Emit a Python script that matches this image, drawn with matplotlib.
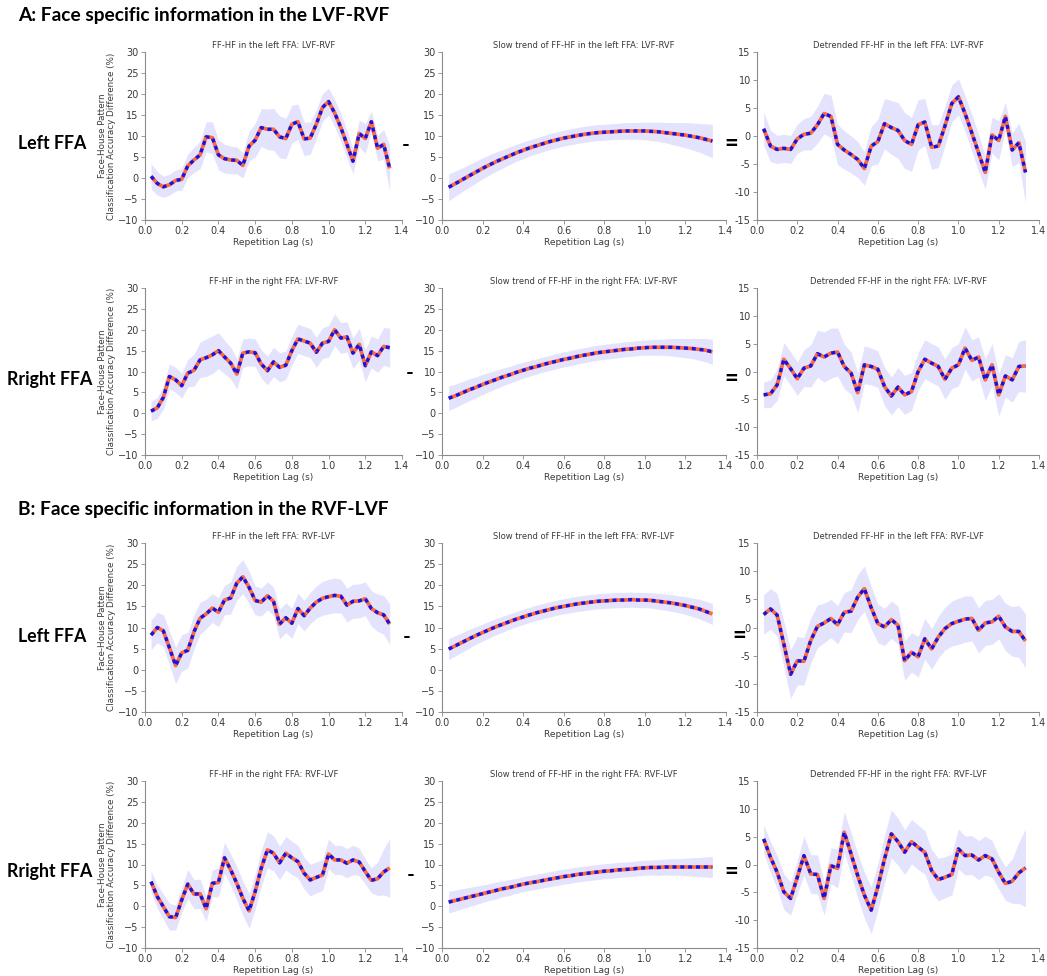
import matplotlib
matplotlib.use("Agg")
import matplotlib.pyplot as plt
import numpy as np
from matplotlib.ticker import FuncFormatter

# ---------------- data ----------------
lag = [0.033, 0.067, 0.1, 0.133, 0.167, 0.2, 0.233, 0.267, 0.3, 0.333,
       0.367, 0.4, 0.433, 0.467, 0.5, 0.533, 0.567, 0.6, 0.633, 0.667,
       0.7, 0.733, 0.767, 0.8, 0.833, 0.867, 0.9, 0.933, 0.967, 1.0,
       1.033, 1.067, 1.1, 1.133, 1.167, 1.2, 1.233, 1.267, 1.3, 1.333]

# A: left FFA, LVF-RVF
a_raw = [0.4, -1.3, -2.1, -1.6, -0.6, -0.3, 2.9, 4.3, 5.5, 9.8, 9.6, 5.5, 4.6, 4.3, 4.2, 3.0,
         7.6, 9.0, 12.0, 11.6, 11.6, 9.8, 9.4, 12.8, 13.4, 9.3, 9.5, 12.8, 16.8, 18.2, 15.5, 12.0,
         8.0, 4.0, 10.6, 9.4, 13.4, 7.1, 8.0, 2.3]
a_trend = [-2.2, -1.3, -0.4, 0.5, 1.4, 2.3, 3.1, 3.9, 4.6, 5.3, 6.0, 6.6, 7.2, 7.7, 8.2, 8.7,
           9.1, 9.5, 9.8, 10.1, 10.4, 10.6, 10.8, 10.9, 11.0, 11.1, 11.2, 11.2, 11.2, 11.2, 11.1,
           11.0, 10.8, 10.6, 10.4, 10.2, 9.9, 9.6, 9.2, 8.8]
a_detr = [1.3, -1.8, -2.4, -2.2, -2.4, -0.5, 0.3, 0.5, 2.0, 4.0, 3.5, -1.5, -2.5, -3.3, -4.2, -5.8,
          -1.8, -1.0, 2.2, 1.5, 1.0, -0.8, -1.5, 2.0, 2.5, -2.0, -1.8, 1.8, 5.8, 7.0, 4.0, 0.5,
          -3.0, -6.5, 0.2, -0.8, 3.5, -2.5, -1.2, -6.5]
a_sem = [3.0, 2.8, 2.5, 2.5, 2.5, 2.6, 2.8, 3.0, 3.3, 3.6, 3.8, 3.6, 3.4, 3.3, 3.2, 3.0, 3.5, 4.0,
         4.5, 4.8, 5.0, 5.0, 4.8, 4.5, 4.2, 4.0, 3.8, 3.5, 3.3, 3.2, 3.2, 3.3, 3.3, 3.0, 3.2, 3.5,
         2.5, 3.0, 3.5, 5.5]
a_trend_sem = [3.2, 3.0, 2.8, 2.7, 2.6, 2.5, 2.4, 2.3, 2.2, 2.1, 2.0, 2.0, 1.9, 1.9, 1.9, 1.9,
               1.9, 1.9, 1.9, 1.9, 1.9, 1.9, 1.9, 1.9, 1.9, 1.9, 2.0, 2.0, 2.0, 2.1, 2.2, 2.3,
               2.4, 2.6, 2.8, 3.0, 3.2, 3.4, 3.7, 4.0]

# B: right FFA, LVF-RVF
b_raw = [0.5, 1.3, 3.8, 8.8, 8.0, 6.6, 9.6, 10.3, 12.8, 13.3, 14.0, 15.0, 13.5, 12.0, 9.4, 14.4,
         14.7, 14.5, 11.8, 10.2, 12.3, 11.0, 11.5, 15.0, 17.8, 17.3, 16.8, 14.6, 16.8, 17.2, 20.0,
         18.0, 18.3, 14.4, 16.5, 11.4, 14.7, 13.8, 16.0, 15.7]
b_trend = [3.6, 4.2, 4.9, 5.6, 6.2, 6.9, 7.5, 8.1, 8.7, 9.2, 9.8, 10.3, 10.8, 11.2, 11.7, 12.1,
           12.5, 12.9, 13.2, 13.6, 13.9, 14.2, 14.5, 14.7, 14.9, 15.1, 15.3, 15.4, 15.6, 15.7,
           15.8, 15.8, 15.8, 15.8, 15.7, 15.6, 15.5, 15.3, 15.1, 14.7]
b_detr = [-4.2, -4.0, -2.4, 2.2, 0.5, -1.3, 0.6, 1.0, 3.2, 2.6, 3.3, 3.5, 0.9, -0.3, -3.8, 1.2,
          0.9, 0.4, -2.7, -4.4, -2.8, -4.2, -3.6, 0.0, 2.2, 1.5, 0.9, -1.4, 0.6, 1.2, 4.2, 2.0,
          2.6, -1.5, 1.2, -4.2, -0.8, -1.5, 0.9, 1.0]
b_sem = [2.3, 2.5, 2.8, 3.0, 3.0, 3.0, 3.3, 3.8, 4.2, 4.5, 4.5, 4.3, 4.0, 3.8, 3.6, 3.4, 3.3, 3.3,
         3.4, 3.4, 3.5, 3.5, 3.4, 3.4, 3.5, 3.5, 3.5, 3.6, 3.7, 3.8, 3.8, 3.7, 3.6, 3.7, 3.8, 3.8,
         3.8, 4.0, 4.5, 4.7]
b_trend_sem = [2.9, 2.8, 2.7, 2.6, 2.5, 2.4, 2.3, 2.2, 2.1, 2.0, 2.0, 1.9, 1.9, 1.8, 1.8, 1.8,
               1.8, 1.8, 1.8, 1.8, 1.8, 1.8, 1.8, 1.8, 1.8, 1.8, 1.8, 1.8, 1.8, 1.8, 1.9, 1.9,
               2.0, 2.1, 2.2, 2.3, 2.4, 2.6, 2.8, 3.0]

# C: left FFA, RVF-LVF
c_raw = [8.2, 10.0, 9.2, 5.2, 1.0, 4.0, 4.6, 9.0, 12.2, 13.2, 14.6, 13.6, 16.5, 17.0, 20.5, 22.0,
         19.5, 16.4, 16.0, 17.5, 16.2, 10.8, 12.3, 11.0, 14.5, 12.8, 14.6, 16.0, 16.9, 17.3, 17.6,
         17.4, 15.3, 16.2, 16.3, 16.8, 14.5, 13.5, 13.0, 10.8]
c_trend = [4.9, 5.7, 6.5, 7.3, 8.1, 8.8, 9.5, 10.2, 10.8, 11.4, 12.0, 12.5, 13.0, 13.5, 13.9,
           14.3, 14.7, 15.0, 15.3, 15.6, 15.8, 16.0, 16.2, 16.3, 16.4, 16.5, 16.5, 16.6, 16.5,
           16.5, 16.4, 16.2, 16.0, 15.8, 15.5, 15.2, 14.8, 14.4, 13.8, 13.2]
c_detr = [2.3, 3.3, 2.2, -2.9, -8.3, -5.9, -6.0, -2.3, 0.2, 0.8, 1.6, 0.5, 2.7, 2.9, 5.4, 6.9,
          3.5, 0.7, 0.1, 1.4, 0.4, -5.9, -4.4, -5.2, -2.0, -3.8, -1.7, -0.2, 0.7, 1.1, 1.5, 1.6,
          -0.5, 0.8, 1.0, 2.0, 0.1, -0.7, -0.7, -2.4]
c_sem = [3.5, 3.6, 3.8, 4.0, 4.3, 4.3, 4.2, 4.0, 3.8, 3.5, 3.4, 3.4, 3.5, 3.8, 4.0, 4.0, 3.8, 3.4,
         3.3, 3.3, 3.4, 3.5, 3.5, 3.6, 3.6, 3.6, 3.7, 3.8, 4.0, 4.1, 4.1, 4.0, 4.0, 4.0, 4.0, 4.0,
         4.2, 4.4, 4.6, 4.8]
c_trend_sem = [2.5, 2.4, 2.3, 2.2, 2.1, 2.0, 2.0, 1.9, 1.9, 1.8, 1.8, 1.8, 1.8, 1.8, 1.8, 1.8,
               1.8, 1.8, 1.8, 1.8, 1.8, 1.8, 1.8, 1.8, 1.8, 1.8, 1.8, 1.8, 1.8, 1.8, 1.8, 1.9,
               1.9, 2.0, 2.0, 2.1, 2.2, 2.3, 2.4, 2.5]

# D: right FFA, RVF-LVF
d_raw = [5.9, 2.3, -0.1, -2.5, -2.7, 1.5, 5.3, 2.9, 3.0, -0.6, 5.5, 5.7, 11.6, 8.7, 5.5, 1.9,
         -1.1, 3.5, 9.1, 13.5, 12.7, 10.4, 12.7, 11.6, 10.7, 7.9, 6.3, 6.9, 7.5, 12.5, 11.1, 11.1,
         10.3, 11.1, 10.6, 8.3, 6.2, 6.6, 8.2, 9.2]
d_trend = [1.0, 1.4, 1.8, 2.2, 2.6, 3.0, 3.4, 3.8, 4.2, 4.5, 4.9, 5.3, 5.6, 5.9, 6.2, 6.5, 6.8,
           7.1, 7.3, 7.6, 7.8, 8.0, 8.2, 8.4, 8.5, 8.7, 8.8, 8.9, 9.1, 9.2, 9.3, 9.3, 9.4, 9.4,
           9.4, 9.4, 9.4, 9.4, 9.4, 9.4]
d_detr = [4.6, 1.3, -1.4, -4.9, -6.1, -2.3, 1.6, -1.7, -1.8, -6.1, -0.2, -0.7, 5.8, 1.9, -2.0,
          -5.5, -8.2, -4.0, 1.0, 5.5, 4.1, 2.2, 4.1, 3.1, 2.2, -1.1, -2.7, -2.3, -1.8, 2.8, 1.6,
          1.7, 0.8, 1.6, 1.0, -1.4, -3.4, -3.0, -1.5, -0.6]
d_sem = [2.5, 2.8, 3.0, 3.2, 3.0, 3.0, 3.5, 3.5, 3.5, 3.0, 3.2, 3.5, 3.7, 3.8, 4.0, 4.1, 4.2, 4.2,
         4.3, 4.3, 4.2, 4.0, 4.0, 4.0, 3.9, 3.8, 3.8, 3.7, 3.7, 3.6, 3.5, 3.5, 3.5, 3.5, 3.3, 3.0,
         3.0, 4.0, 5.5, 7.0]
d_trend_sem = [2.6, 2.5, 2.4, 2.3, 2.2, 2.1, 2.0, 2.0, 1.9, 1.9, 1.8, 1.8, 1.8, 1.8, 1.8, 1.8,
               1.8, 1.8, 1.8, 1.8, 1.8, 1.8, 1.8, 1.8, 1.8, 1.8, 1.8, 1.8, 1.8, 1.8, 1.8, 1.9,
               1.9, 2.0, 2.0, 2.1, 2.2, 2.3, 2.4, 2.5]

hemis = ["left", "right", "left", "right"]
fields = ["LVF-RVF", "LVF-RVF", "RVF-LVF", "RVF-LVF"]
row_labels = ["Left FFA", "Rright FFA", "Left FFA", "Rright FFA"]
headings = ["A: Face specific information in the LVF-RVF",
            "B: Face specific information in the RVF-LVF"]
xticks = [0.0, 0.2, 0.4, 0.6, 0.8, 1.0, 1.2, 1.4]
yticks_main = [-10, -5, 0, 5, 10, 15, 20, 25, 30]
yticks_detr = [-15, -10, -5, 0, 5, 10, 15]
ylabel = "Face-House Pattern\nClassification Accuracy Difference (%)"
xlabel = "Repetition Lag (s)"

rows = [
    (a_raw, a_trend, a_detr, a_sem, a_trend_sem),
    (b_raw, b_trend, b_detr, b_sem, b_trend_sem),
    (c_raw, c_trend, c_detr, c_sem, c_trend_sem),
    (d_raw, d_trend, d_detr, d_sem, d_trend_sem),
]

# ---------------- layout ----------------
W, H = 1047, 976
fig = plt.figure(figsize=(W / 100, H / 100), dpi=100)
fig.patch.set_facecolor("white")

col_px = [(145, 402), (442, 726), (757, 1039)]
row_px = [(52, 220), (288, 455), (543, 712), (781, 948)]

TXT = "#3a3a3a"
SPINE = "#8a8a8a"
BAND = "#e3e3fd"
ORANGE = "#ff6a3d"
BLUE = "#1414e6"

x = np.array(lag)


def fx(px):
    return px / W


def fy(py):
    return 1 - py / H


def panel(ax, y, sem, yticks, title, detr=False, ylab=False):
    y = np.array(y)
    s = np.array(sem)
    ax.fill_between(x, y - s, y + s, color=BAND, lw=0, zorder=1)
    ax.plot(x, y, color=ORANGE, lw=2.7, zorder=2, solid_capstyle="butt")
    ax.plot(x, y, color=BLUE, lw=2.4, ls=(0, (1.2, 1.15)), zorder=3)
    ax.set_xlim(0, 1.4)
    ax.set_ylim(yticks[0], yticks[-1])
    ax.set_xticks(xticks)
    ax.set_yticks(yticks)
    ax.xaxis.set_major_formatter(FuncFormatter(lambda v, p: f"{v:.1f}"))
    if detr:
        ax.yaxis.set_major_formatter(FuncFormatter(lambda v, p: f"{int(v)}"))
    for sp in ["top", "right"]:
        ax.spines[sp].set_visible(False)
    for sp in ["left", "bottom"]:
        ax.spines[sp].set_color(SPINE)
        ax.spines[sp].set_linewidth(0.8)
    ax.tick_params(axis="both", labelsize=7, colors=TXT, length=3, width=0.6,
                   pad=1.5, color=SPINE)
    ax.set_title(title, fontsize=6, color=TXT, pad=3)
    ax.set_xlabel(xlabel, fontsize=6.5, color=TXT, labelpad=1)
    if ylab:
        ax.set_ylabel(ylabel, fontsize=6.3, color=TXT, labelpad=2, linespacing=1.0)
    ax.set_facecolor("none")


for r, (raw, trend, detr, sem, tsem) in enumerate(rows):
    top, bot = row_px[r]
    hemi, fld = hemis[r], fields[r]
    axes = []
    for c in range(3):
        l, rr = col_px[c]
        axes.append(fig.add_axes([fx(l), fy(bot), fx(rr - l), (bot - top) / H]))
    panel(axes[0], raw, sem, yticks_main, f"FF-HF in the {hemi} FFA: {fld}", ylab=True)
    panel(axes[1], trend, tsem, yticks_main, f"Slow trend of FF-HF in the {hemi} FFA: {fld}")
    panel(axes[2], detr, sem, yticks_detr, f"Detrended FF-HF in the {hemi} FFA: {fld}", detr=True)

# row labels and operators
row_label_y = [143, 380, 637, 872]
minus_pos = [(406, 145), (410, 373), (407, 637), (411, 875)]
equal_pos = [(731, 143), (731, 378), (739, 635), (731, 872)]
row_label_x = [18, 7, 18, 7]
for r in range(4):
    fig.text(fx(row_label_x[r]), fy(row_label_y[r]), row_labels[r], fontsize=12.8,
             fontweight="bold", family="Lato", ha="left", va="center", color="black")
    fig.text(fx(minus_pos[r][0]), fy(minus_pos[r][1]), "-", fontsize=15,
             fontweight="bold", family="Lato", ha="center", va="center", color="black")
    fig.text(fx(equal_pos[r][0]), fy(equal_pos[r][1]), "=", fontsize=17,
             fontweight="bold", family="Lato", ha="center", va="center", color="black")

fig.text(fx(18), fy(16), headings[0], fontsize=13.8, fontweight="bold", family="Lato",
         ha="left", va="center", color="black")
fig.text(fx(18), fy(510), headings[1], fontsize=13.8, fontweight="bold", family="Lato",
         ha="left", va="center", color="black")

fig.savefig("out.png", dpi=100, facecolor="white")
